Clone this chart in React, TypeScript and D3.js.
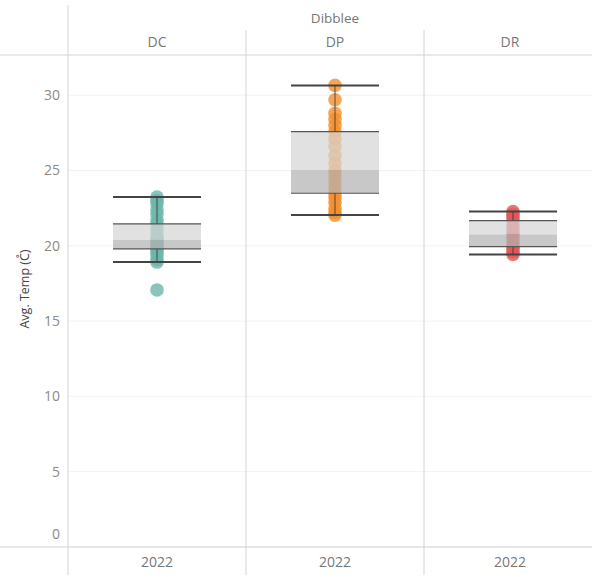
import React from "react";
import * as d3 from "d3";

const categories = ["DC", "DP", "DR"];
const yearLabel = "2022";
const groupLabel = "Dibblee";
const colors = ["#6db5aa", "#f28e2b", "#e15759"];

const dcValues = [17.07, 18.92, 19.1, 19.4, 19.6, 19.79, 19.9, 20.1, 20.3, 20.39, 20.5, 20.8, 21.1, 21.45, 21.7, 22.1, 22.4, 22.8, 23.0, 23.24];
const dpValues = [22.04, 22.2, 22.5, 22.9, 23.2, 23.49, 23.9, 24.3, 24.7, 25.03, 25.5, 26.0, 26.6, 27.1, 27.58, 28.0, 28.4, 28.8, 29.7, 30.65];
const drValues = [19.43, 19.6, 19.8, 19.94, 20.2, 20.5, 20.76, 21.0, 21.3, 21.67, 21.9, 22.1, 22.27];

const whiskerLow = [18.92, 22.04, 19.43];
const q1 = [19.79, 23.49, 19.94];
const median = [20.39, 25.03, 20.76];
const q3 = [21.45, 27.58, 21.67];
const whiskerHigh = [23.24, 30.65, 22.27];

const yTicks = [0, 5, 10, 15, 20, 25, 30];

const W = 592;
const H = 577;
const left = 68;
const paneW = 178;
const top = 55;
const bottom = 547;
const font = "'Open Sans', sans-serif";

export default function App() {
  const series = [dcValues, dpValues, drValues];
  const y = d3.scaleLinear().domain([0, 32.67]).range([bottom, top]);
  const x = d3
    .scaleBand<string>()
    .domain(categories)
    .range([left, left + paneW * categories.length])
    .paddingInner(0)
    .paddingOuter(0);
  const boxW = 88;
  const lineColor = "#d4d4d4";
  const visRight = W + 4;

  return (
    <svg width={W} height={H} style={{ position: "absolute", left: 0, top: 0, background: "#fff" }}>
      <defs>
        <clipPath id="plot">
          <rect x={left} y={top} width={W - left} height={bottom - top} />
        </clipPath>
      </defs>
      {yTicks.map((t) => (
        <line key={"g" + t} x1={left} x2={W} y1={y(t)} y2={y(t)} stroke="#f2f2f2" strokeWidth={1} />
      ))}
      {yTicks.map((t) => (
        <text
          key={"t" + t}
          x={60}
          y={t === 0 ? y(t) - 13 : y(t)}
          dy="0.35em"
          textAnchor="end"
          fontSize={14}
          fill="#8a8a8a"
          fontFamily={font}
        >
          {t}
        </text>
      ))}
      <text
        transform={`translate(25,289) rotate(-90)`}
        textAnchor="middle"
        dy="0.35em"
        fontSize={12.5}
        fill="#444"
        fontFamily={font}
      >
        Avg. Temp (C̊)
      </text>
      <text x={(left + left + paneW * 3) / 2} y={18} dy="0.35em" textAnchor="middle" fontSize={13.5} fill="#777" fontFamily={font}>
        {groupLabel}
      </text>
      {categories.map((c) => {
        const x0 = x(c)!;
        const x1 = Math.min(x0 + paneW, visRight);
        return (
          <g key={"h" + c}>
            <text x={(x0 + x1) / 2} y={42} dy="0.35em" textAnchor="middle" fontSize={14} fill="#777" fontFamily={font}>
              {c}
            </text>
            <text x={(x0 + x1) / 2} y={562} dy="0.35em" textAnchor="middle" fontSize={14} fill="#777" fontFamily={font}>
              {yearLabel}
            </text>
          </g>
        );
      })}
      <g clipPath="url(#plot)">
        {categories.map((c, i) => {
          const cx = x(c)! + x.bandwidth() / 2;
          const bx = cx - boxW / 2;
          return (
            <g key={"b" + c}>
              {series[i].map((v, j) => (
                <circle key={j} cx={cx} cy={y(v)} r={6.8} fill={colors[i]} fillOpacity={0.8} />
              ))}
              <rect x={bx} y={y(q3[i])} width={boxW} height={y(median[i]) - y(q3[i])} fill="#d6d6d6" fillOpacity={0.72} />
              <rect x={bx} y={y(median[i])} width={boxW} height={y(q1[i]) - y(median[i])} fill="#b3b3b3" fillOpacity={0.72} />
              <line x1={cx} x2={cx} y1={y(whiskerHigh[i])} y2={y(q3[i])} stroke="#333" strokeOpacity={0.8} strokeWidth={1} />
              <line x1={cx} x2={cx} y1={y(q1[i])} y2={y(whiskerLow[i])} stroke="#333" strokeOpacity={0.8} strokeWidth={1} />
              <line x1={bx} x2={bx + boxW} y1={y(q3[i])} y2={y(q3[i])} stroke="#555" strokeWidth={1.2} />
              <line x1={bx} x2={bx + boxW} y1={y(q1[i])} y2={y(q1[i])} stroke="#555" strokeWidth={1.2} />
              <line x1={bx} x2={bx + boxW} y1={y(whiskerHigh[i])} y2={y(whiskerHigh[i])} stroke="#444" strokeWidth={2} />
              <line x1={bx} x2={bx + boxW} y1={y(whiskerLow[i])} y2={y(whiskerLow[i])} stroke="#444" strokeWidth={2} />
            </g>
          );
        })}
      </g>
      <line x1={0} x2={W} y1={top} y2={top} stroke={lineColor} />
      <line x1={0} x2={W} y1={bottom} y2={bottom} stroke={lineColor} />
      <line x1={left} x2={left} y1={5} y2={575} stroke={lineColor} />
      {categories.slice(1).map((c) => (
        <line key={"d" + c} x1={x(c)!} x2={x(c)!} y1={30} y2={575} stroke={lineColor} />
      ))}
    </svg>
  );
}
